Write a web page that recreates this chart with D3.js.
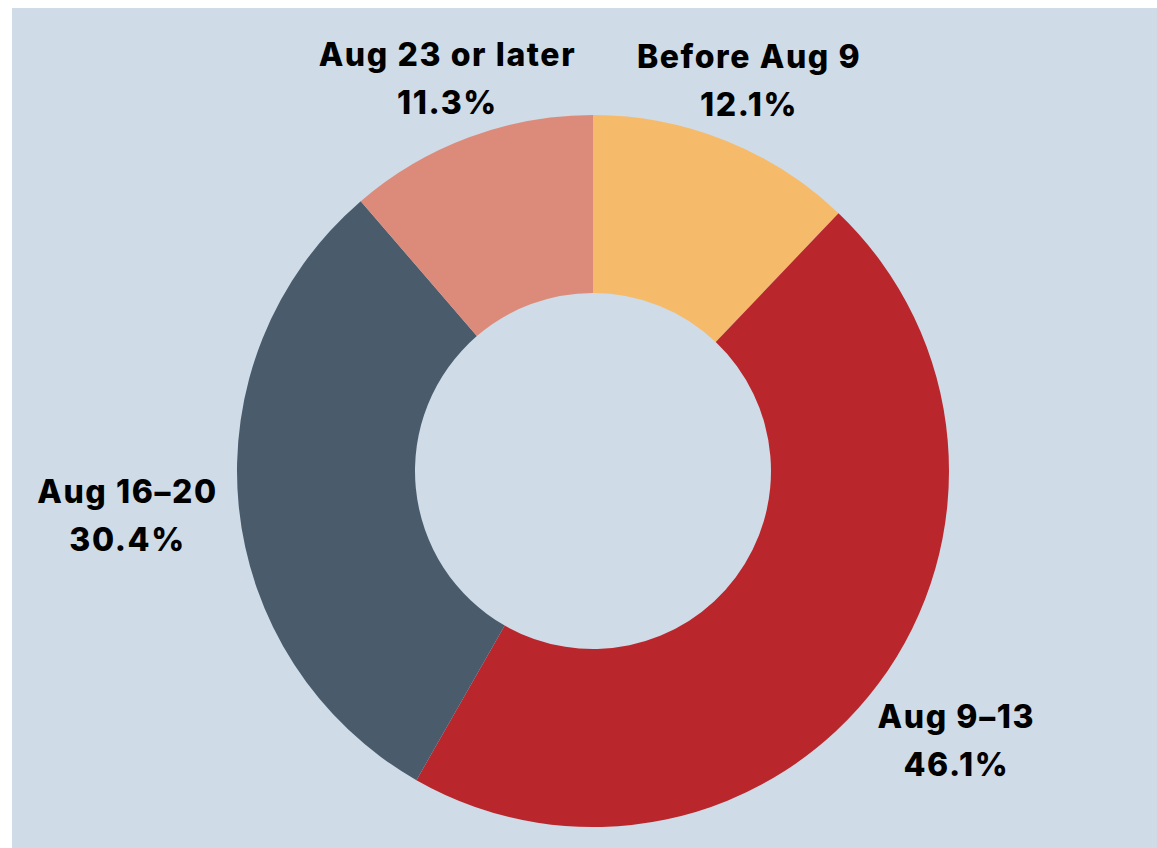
<!DOCTYPE html>
<html>
<head>
<meta charset="utf-8">
<script src="https://cdn.jsdelivr.net/npm/d3@7"></script>
<style>
  body { margin: 0; background: #ffffff; }
  svg text { font-family: "Inter", "Open Sans", sans-serif; font-weight: 800; fill: #000; letter-spacing: 1.6px; }
</style>
</head>
<body>
<div id="chart"></div>
<script>
// slice data, clockwise from 12 o'clock
var categories = ["Before Aug 9", "Aug 9\u201313", "Aug 16\u201320", "Aug 23 or later"];
var shares = [12.1, 46.1, 30.4, 11.3];
var colors = ["#f6bb6a", "#b9272d", "#4a5b6c", "#dc8b7a"];

var width = 1157, height = 848;
var cx = 593, cy = 471,
    outerR = 356, innerR = 178;

var svg = d3.select("#chart").append("svg")
    .attr("width", width)
    .attr("height", height);

// panel background
svg.append("rect")
    .attr("x", 12).attr("y", 8)
    .attr("width", width - 12).attr("height", height - 8)
    .attr("fill", "#cfdbe6");

var g = svg.append("g")
    .attr("transform", "translate(" + cx + "," + cy + ")");

var data = categories.map(function(c, i) { return {name: c, value: shares[i], color: colors[i]}; });

var pie = d3.pie()
    .sort(null)
    .value(function(d) { return d.value; });

var arc = d3.arc()
    .innerRadius(innerR)
    .outerRadius(outerR);

var arcs = pie(data);

g.selectAll("path.slice")
  .data(arcs)
  .enter()
  .append("path")
    .attr("class", "slice")
    .attr("d", arc)
    .attr("fill", function(d) { return d.data.color; });

// labels sit outside the ring, pushed out further on the sides
function labelPos(d) {
  var a = (d.startAngle + d.endAngle) / 2;
  var r = 392 + 76 * Math.abs(Math.sin(a));
  return [r * Math.sin(a), -r * Math.cos(a)];
}

var labels = g.selectAll("g.label")
  .data(arcs)
  .enter()
  .append("g")
    .attr("class", "label")
    .attr("transform", function(d) { return "translate(" + labelPos(d) + ")"; });

labels.append("text")
    .attr("text-anchor", "middle")
    .attr("y", -13)
    .style("font-size", "32px")
    .text(function(d) { return d.data.name; });

labels.append("text")
    .attr("text-anchor", "middle")
    .attr("y", 35)
    .style("font-size", "32px")
    .text(function(d) { return d.data.value.toFixed(1) + "%"; });
</script>
</body>
</html>
